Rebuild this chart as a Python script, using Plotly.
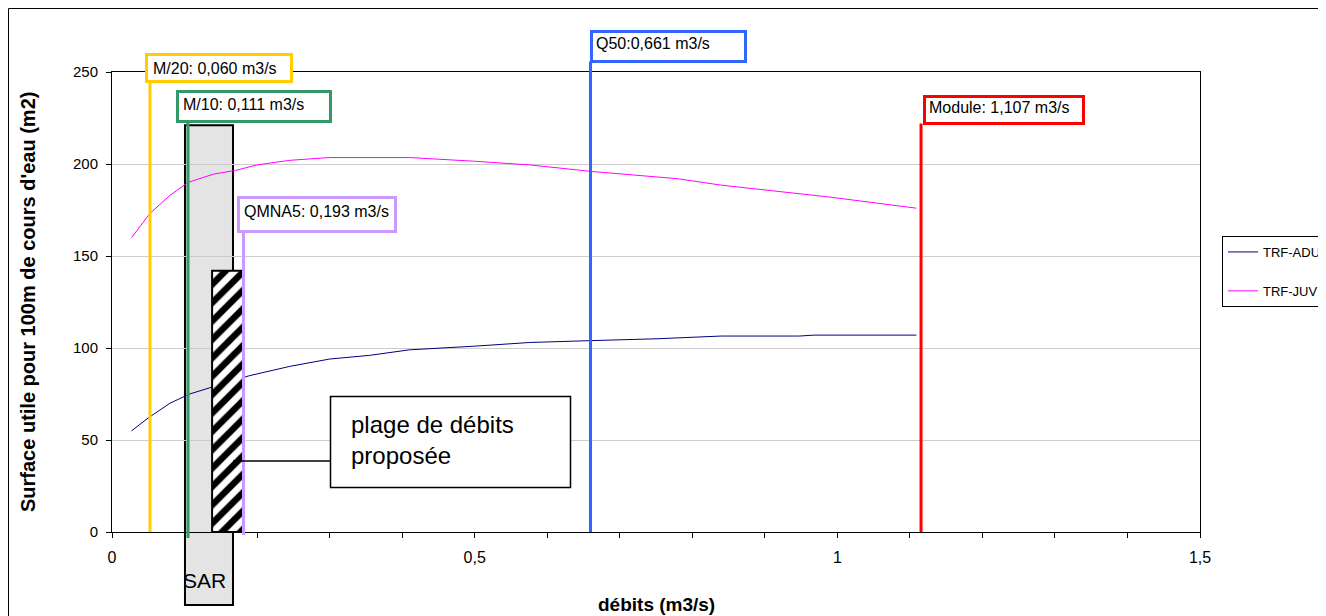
import plotly.graph_objects as go

# ---------------- data ----------------
flow_adu = [0.027, 0.05, 0.08, 0.107, 0.14, 0.19, 0.245, 0.30, 0.355, 0.41, 0.50, 0.576, 0.66, 0.75, 0.84, 0.948, 0.968, 1.109]
surf_adu = [55, 62, 70, 75, 79, 85, 90, 94, 96, 99, 101, 103, 104, 105, 106.5, 106.5, 107, 107]

flow_juv = [0.027, 0.052, 0.08, 0.105, 0.14, 0.17, 0.20, 0.245, 0.30, 0.41, 0.50, 0.576, 0.66, 0.78, 0.84, 0.948, 0.99, 1.109]
surf_juv = [160, 173, 183, 190, 194.5, 196.5, 199.5, 202, 203.5, 203.5, 201.5, 199.5, 196, 192, 188.5, 184, 182, 176]

ref_labels = ["M/20: 0,060 m3/s", "M/10: 0,111 m3/s", "QMNA5: 0,193 m3/s", "Q50:0,661 m3/s", "Module: 1,107 m3/s"]
ref_flows = [0.0524, 0.1048, 0.1813, 0.6597, 1.1154]
ref_colors = ["#FFCC00", "#339966", "#CC99FF", "#3366FF", "#FF0000"]

sar_flows = [0.1006, 0.1668]
sar_top = 221
plage_flows = [0.138, 0.181]
plage_top = 142

x_tickvals = [0, 0.5, 1, 1.5]
x_ticktext = ["0", "0,5", "1", "1,5"]
y_tickvals = [0, 50, 100, 150, 200, 250]

# ---------------- layout helpers (page pixel -> paper) ----------------
OFF = 8                      # page body margin
PL, PT, W, H = 112, 72, 1088, 460   # plot area in page pixels
FIG_W, FIG_H = 1326 - OFF, 616 - OFF
def px(v):
    return (v - PL) / W
def py(v):
    return (PT + H - v) / H

FONT = "Arial, 'Liberation Sans', sans-serif"

fig = go.Figure()

fig.add_trace(go.Scatter(x=flow_adu, y=surf_adu, mode="lines", name="TRF-ADU",
                         line=dict(color="#000080", width=1), legendgroup="a"))
fig.add_trace(go.Scatter(x=flow_juv, y=surf_juv, mode="lines", name="TRF-JUV",
                         line=dict(color="#FF00FF", width=1), legendgroup="b"))

# hatched "plage de débits proposée" bar (on overlay axis so it sits above the curves)
fig.add_trace(go.Bar(x=[(plage_flows[0] + plage_flows[1]) / 2], y=[plage_top],
                     width=[plage_flows[1] - plage_flows[0]], base=0,
                     xaxis="x2", showlegend=False, hoverinfo="skip",
                     marker=dict(color="white", line=dict(color="black", width=2),
                                 pattern=dict(shape="/", fgcolor="black", bgcolor="white",
                                              fgopacity=1, fillmode="replace",
                                              size=13, solidity=0.5))))

shapes = []
annotations = []

# outer chart border
shapes.append(dict(type="rect", xref="paper", yref="paper", x0=px(8.5), x1=px(1340), y0=py(640), y1=py(8.5),
                   line=dict(color="black", width=1), fillcolor="rgba(0,0,0,0)", layer="below"))

# SAR box
shapes.append(dict(type="rect", xref="x", yref="paper", x0=sar_flows[0], x1=sar_flows[1],
                   y0=py(605), y1=py(PT + H - sar_top * H / 250),
                   line=dict(color="black", width=2), fillcolor="#e4e4e4", layer="below"))
annotations.append(dict(text="SAR", xref="x", yref="paper", x=(sar_flows[0] + sar_flows[1]) / 2 - 0.006,
                        y=py(580), showarrow=False, xanchor="center", yanchor="middle",
                        font=dict(family=FONT, size=21, color="black")))

# reference flow lines and label boxes
box_px = [  # x0, x1, y0(top), y1(bottom), text_left, text_center_y, line_bottom
    (146.5, 291.5, 54.5, 81.5, 151, 68, 532),
    (177.5, 330.5, 91.5, 121.5, 181, 104, 538),
    (238.5, 395.5, 197.5, 231.5, 242, 211, 535),
    (591.5, 745.5, 31.5, 61.5, 594, 43, 532),
    (924.5, 1083.5, 96.5, 123.5, 927, 107, 532),
]
for lab, fx, col, b in zip(ref_labels, ref_flows, ref_colors, box_px):
    x0, x1, y0, y1, tl, tc, lb = b
    shapes.append(dict(type="line", xref="x", yref="paper", x0=fx, x1=fx, y0=py(lb), y1=py(y1),
                       line=dict(color=col, width=3), layer="above"))
    shapes.append(dict(type="rect", xref="paper", yref="paper", x0=px(x0), x1=px(x1), y0=py(y1), y1=py(y0),
                       line=dict(color=col, width=3), fillcolor="white", layer="above"))
    annotations.append(dict(text=lab, xref="paper", yref="paper", x=px(tl), y=py(tc), showarrow=False,
                            xanchor="left", yanchor="middle",
                            font=dict(family=FONT, size=16, color="black")))

# "plage de débits proposée" call-out
shapes.append(dict(type="line", xref="paper", yref="paper", x0=px(233), x1=px(330), y0=py(461), y1=py(461),
                   line=dict(color="black", width=1.5), layer="above"))
shapes.append(dict(type="rect", xref="paper", yref="paper", x0=px(330.5), x1=px(570.5), y0=py(487.5), y1=py(396.5),
                   line=dict(color="black", width=1.5), fillcolor="white", layer="above"))
annotations.append(dict(text="plage de débits<br>proposée", xref="paper", yref="paper", x=px(349), y=py(440),
                        showarrow=False, xanchor="left", yanchor="middle", align="left",
                        font=dict(family=FONT, size=24, color="black")))

# axis titles
annotations.append(dict(text="<b>débits (m3/s)</b>", xref="paper", yref="paper", x=0.5, y=py(604),
                        showarrow=False, xanchor="center", yanchor="middle",
                        font=dict(family=FONT, size=19, color="black")))
annotations.append(dict(text="<b>Surface utile pour 100m de cours d'eau (m2)</b>", xref="paper", yref="paper",
                        x=px(28), y=0.5, textangle=-90, showarrow=False, xanchor="center", yanchor="middle",
                        font=dict(family=FONT, size=20, color="black")))

fig.update_layout(
    width=FIG_W, height=FIG_H,
    margin=dict(l=PL - OFF, r=FIG_W - (PL - OFF) - W, t=PT - OFF, b=FIG_H - (PT - OFF) - H, autoexpand=False),
    paper_bgcolor="white", plot_bgcolor="white",
    font=dict(family=FONT, size=16, color="black"),
    shapes=shapes, annotations=annotations,
    barmode="overlay",
    showlegend=True,
    legend=dict(x=px(1222), y=py(236), xanchor="left", yanchor="top",
                bordercolor="black", borderwidth=1, bgcolor="white",
                font=dict(family=FONT, size=13, color="black"),
                traceorder="grouped", tracegroupgap=19),
    xaxis=dict(range=[0, 1.5], tickvals=x_tickvals, ticktext=x_ticktext,
               showgrid=False, zeroline=False, showline=True, linecolor="black", linewidth=1, mirror=True,
               ticks="outside", ticklen=5, tickcolor="black", ticklabelstandoff=6,
               minor=dict(dtick=0.1, ticks="outside", ticklen=5, tickcolor="black", showgrid=False),
               tickfont=dict(family=FONT, size=16, color="black")),
    xaxis2=dict(range=[0, 1.5], overlaying="x", matches="x", visible=False),
    yaxis=dict(range=[0, 250], tickvals=y_tickvals,
               showgrid=True, gridcolor="#cccccc", gridwidth=1, zeroline=False,
               showline=True, linecolor="black", linewidth=1, mirror=True,
               ticks="outside", ticklen=5, tickcolor="black", ticklabelstandoff=5,
               tickfont=dict(family=FONT, size=15, color="black")),
)

fig.write_html("out.html")
